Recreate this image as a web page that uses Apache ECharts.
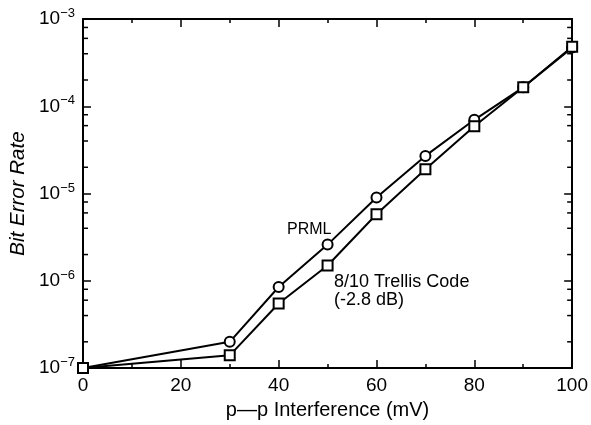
<!DOCTYPE html>
<html><head><meta charset="utf-8">
<script src="https://cdn.jsdelivr.net/npm/echarts@6/dist/echarts.min.js"></script>
<style>html,body{margin:0;padding:0;background:#fff}#c{width:591px;height:425px}</style>
</head><body><div id="c"></div>
<script>
// ---- data ----
const interference = [0, 30, 40, 50, 60, 70, 80, 90, 100];
const prmlBER = [1.0e-7, 2.0e-7, 8.5e-7, 2.6e-6, 9.0e-6, 2.7e-5, 7.0e-5, 1.65e-4, 4.7e-4];
const trellisBER = [1.0e-7, 1.4e-7, 5.5e-7, 1.5e-6, 5.8e-6, 1.9e-5, 5.9e-5, 1.65e-4, 4.8e-4];
const xTickLabels = ['0', '20', '40', '60', '80', '100'];
const yMinorTicks = [2e-7, 4e-7, 6e-7, 8e-7, 2e-6, 4e-6, 6e-6, 8e-6, 2e-5, 4e-5, 6e-5, 8e-5, 2e-4, 4e-4, 6e-4, 8e-4];
const seriesNames = ['PRML', '8/10 Trellis Code'];
const annotationPRML = 'PRML';
const annotationTrellis = '8/10 Trellis Code\n(-2.8 dB)';
const xTitle = 'p\u2014p Interference (mV)';
const yTitle = 'Bit Error Rate';

// ---- chart ----
const FONT = '"Liberation Sans", Arial, Helvetica, sans-serif';
const chart = echarts.init(document.getElementById('c'), null, {renderer: 'canvas'});

const xCommon = {
  type: 'value', min: 0, max: 100, interval: 20,
  axisLine: {show: true, onZero: false, lineStyle: {color: '#000', width: 2}},
  axisTick: {show: true, inside: true, length: 8, lineStyle: {color: '#000', width: 1.5}},
  minorTick: {show: true, splitNumber: 2, length: 4, lineStyle: {color: '#000', width: 1.5}},
  splitLine: {show: false}
};
const yCommon = {
  type: 'log', logBase: 10, min: 1e-7, max: 1e-3,
  axisLine: {show: true, onZero: false, lineStyle: {color: '#000', width: 2}},
  axisTick: {show: true, inside: true, length: 8, lineStyle: {color: '#000', width: 1.5}},
  splitLine: {show: false}
};

const option = {
  animation: false,
  backgroundColor: '#fff',
  grid: {left: 83, right: 16, top: 19, bottom: 55},
  xAxis: [
    Object.assign({}, xCommon, {
      position: 'bottom',
      name: xTitle, nameLocation: 'middle', nameGap: 31,
      nameTextStyle: {fontFamily: FONT, fontSize: 20, color: '#000'},
      axisLabel: {
        show: true, margin: 8, color: '#000', fontFamily: FONT, fontSize: 19,
        formatter: v => xTickLabels[Math.round(v / 20)]
      }
    }),
    Object.assign({}, xCommon, {position: 'top', axisLabel: {show: false}})
  ],
  yAxis: [
    Object.assign({}, yCommon, {
      position: 'left',
      name: yTitle, nameLocation: 'middle', nameGap: 51,
      nameTextStyle: {fontFamily: FONT, fontSize: 20.5, fontStyle: 'italic', color: '#000'},
      axisLabel: {
        show: true, margin: 8,
        formatter: v => '{b|10}{s|\u2212' + Math.round(-Math.log10(v)) + '}',
        rich: {
          b: {fontFamily: FONT, fontSize: 19, color: '#000', lineHeight: 24},
          s: {fontFamily: FONT, fontSize: 13, color: '#000', verticalAlign: 'top', lineHeight: 13}
        }
      }
    }),
    Object.assign({}, yCommon, {position: 'right', axisLabel: {show: false}})
  ],
  graphic: [
    {type: 'text', left: 287, top: 222, silent: true,
     style: {text: annotationPRML, font: '16px ' + FONT, fill: '#000'}},
    {type: 'text', left: 334, top: 273, silent: true,
     style: {text: annotationTrellis, font: '18px ' + FONT, fill: '#000', lineHeight: 18}}
  ],
  series: [
    {
      type: 'custom', coordinateSystem: 'cartesian2d', xAxisIndex: 0, yAxisIndex: 0,
      silent: true, clip: false, z: 1,
      data: yMinorTicks.map(v => [0, v]),
      encode: {x: 0, y: 1},
      renderItem: function (params, api) {
        const y = api.coord([0, api.value(1)])[1];
        const cs = params.coordSys;
        return {type: 'group', children: [
          {type: 'line', shape: {x1: cs.x, y1: y, x2: cs.x + 5, y2: y}, style: {stroke: '#000', lineWidth: 1.5}},
          {type: 'line', shape: {x1: cs.x + cs.width, y1: y, x2: cs.x + cs.width - 5, y2: y}, style: {stroke: '#000', lineWidth: 1.5}}
        ]};
      }
    },
    {
      name: seriesNames[0], type: 'line', xAxisIndex: 0, yAxisIndex: 0, clip: false, z: 3,
      data: interference.map((x, i) => [x, prmlBER[i]]),
      symbol: 'circle', symbolSize: 10, showAllSymbol: true,
      lineStyle: {color: '#000', width: 2},
      itemStyle: {color: '#fff', borderColor: '#000', borderWidth: 2}
    },
    {
      name: seriesNames[1], type: 'line', xAxisIndex: 0, yAxisIndex: 0, clip: false, z: 4,
      data: interference.map((x, i) => [x, trellisBER[i]]),
      symbol: 'rect', symbolSize: 10, showAllSymbol: true,
      lineStyle: {color: '#000', width: 2},
      itemStyle: {color: '#fff', borderColor: '#000', borderWidth: 2}
    }
  ]
};
chart.setOption(option);
</script>
</body></html>
